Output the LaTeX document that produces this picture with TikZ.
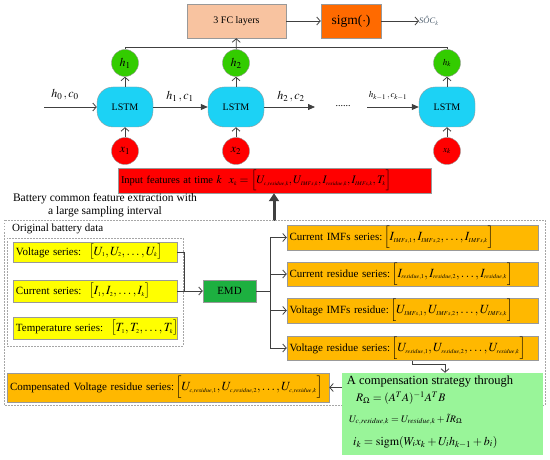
\documentclass[tikz,border=0pt]{standalone}
\usepackage{mathptmx}
\usepackage{fontspec}
\setmainfont{Liberation Serif}
\DeclareMathSizes{11}{12.5}{6}{5}
\DeclareMathSizes{10.5}{11.5}{5.5}{5}
\usetikzlibrary{arrows.meta,calc}
\definecolor{lg}{HTML}{404040}
\definecolor{fcc}{HTML}{F8C3A0}
\definecolor{sgc}{HTML}{FF6A00}
\definecolor{hgc}{HTML}{33CC00}
\definecolor{lsc}{HTML}{1CD2F5}
\definecolor{xrc}{HTML}{FF0000}
\definecolor{yec}{HTML}{FFFF00}
\definecolor{orc}{HTML}{FFB800}
\definecolor{emc}{HTML}{1DB040}
\definecolor{grc}{HTML}{99F599}
\definecolor{socc}{HTML}{506070}
\begin{document}
\begin{tikzpicture}[x=1pt,y=-1pt,
  ln/.style={draw=lg,line width=0.8pt},
  arr/.style={ln,-{Straight Barb[length=3.5pt,width=8pt]}},
  tarr/.style={ln,-{Triangle[length=7pt,width=6pt]}},
  bx/.style={draw=gray!80,line width=0.5pt,inner sep=0pt,align=center},
  hcirc/.style={circle,draw=gray!80,fill=hgc,minimum size=27pt,inner sep=0pt,font=\fontsize{12}{14}\selectfont},
  xcirc/.style={circle,draw=gray!80,fill=xrc,minimum size=27pt,inner sep=0pt,font=\fontsize{12}{14}\selectfont},
  lstmbox/.style={draw=gray!80,fill=lsc,rounded corners=16pt,minimum width=56pt,minimum height=40pt,inner sep=0pt,font=\fontsize{10}{12}\selectfont},
  ybox/.style={bx,fill=yec,minimum width=164pt,text width=158pt,align=left,font=\fontsize{11}{13}\selectfont},
  obox/.style={bx,fill=orc,minimum width=251pt,minimum height=24.5pt,text width=246pt,align=left,font=\fontsize{11}{13}\selectfont},
  dbox/.style={draw=gray!70,dashed,line width=0.5pt,dash pattern=on 1.5pt off 1.5pt},
  lab/.style={inner sep=0pt,font=\fontsize{12}{14}\selectfont}
]
\useasboundingbox (0,0) rectangle (550,460);
% top row
\node[bx,fill=fcc,minimum width=99pt,minimum height=34pt,font=\fontsize{10}{12}\selectfont] (fc) at (236.5,21) {3 FC layers};
\node[bx,fill=sgc,minimum width=60pt,minimum height=34pt,font=\fontsize{13.5}{15}\selectfont] (sg) at (351,21) {sigm($\cdot$)};
\node[inner sep=0pt,text=socc,font=\fontsize{8.5}{10}\selectfont,anchor=west] (soc) at (419,21) {\textit{S\^OC}$_k$};
\draw[arr] (fc) -- (sg);
\draw[arr] (sg) -- (soc);
% h circles
\node[hcirc] (h1) at (125,63) {$h_1$};
\node[hcirc] (h2) at (236,63) {$h_2$};
\node[hcirc,font=\small] (hk) at (447,63) {$h_k$};
\coordinate (tl) at (125,47);
\coordinate (tr) at (447,47);
\draw[ln] (h1) -- (tl) -- (tr) -- (hk);
\draw[arr] (h2) -- (fc);
% LSTMs
\node[lstmbox] (l1) at (125,107) {LSTM};
\node[lstmbox] (l2) at (236,107) {LSTM};
\node[lstmbox] (lk) at (447,107) {LSTM};
\node[xcirc] (x1) at (125,151) {$x_1$};
\node[xcirc] (x2) at (236,151) {$x_2$};
\node[xcirc,font=\small] (xk) at (447,151) {$x_k$};
\foreach \i in {1,2,k}{
  \draw[arr] (l\i) -- (h\i);
  \draw[arr] (x\i) -- (l\i);
}
\coordinate (s0) at (44,107);
\coordinate (e2) at (315,107);
\coordinate (sk) at (367,107);
\node[inner sep=0pt] (dots) at (343,106) {......};
\draw[arr] (s0) -- (l1);
\draw[tarr] (l1) -- (l2);
\draw[tarr] (l2) -- (e2);
\draw[tarr] (sk) -- (lk);
\node[lab] (lb0) at (65,95) {$h_0\,,c_0$};
\node[lab] (lb1) at (180,97) {$h_1\,,c_1$};
\node[lab] (lb2) at (291,97) {$h_2\,,c_2$};
\node[inner sep=0pt,font=\fontsize{9}{10}\selectfont] (lbk) at (388,96) {$h_{k-1}\,,c_{k-1}$};
% input features
\node[bx,fill=xrc,minimum width=313pt,minimum height=25pt,text width=307pt,align=left,font=\fontsize{10.5}{12}\selectfont] (inp) at (274.5,180.5)
  {\mbox{Input features at time $k$ \ $x_k=\Big[U_{c,residue,k},U_{IMFs,k},I_{residue,k},I_{IMFs,k},T_k\Big]$}};
\coordinate (ta) at (274,221);
\draw[draw=lg,line width=3pt,-{Triangle[length=8pt,width=10pt]}] (ta) -- (ta |- inp.south);
\node[inner sep=0pt,align=center,font=\fontsize{11.5}{13}\selectfont] (bc) at (105,205) {Battery common feature extraction with\\a large sampling interval};
% dashed frames
\draw[dbox] (4,220) rectangle (545,405);
\draw[dbox] (7,238) rectangle (183,346);
\node[inner sep=0pt,anchor=west,font=\fontsize{11}{13}\selectfont] (obd) at (12,229) {Original battery data};
% yellow
\node[ybox,minimum height=20pt] (vs) at (95,252) {\mbox{Voltage series:\ \ $\big[U_1,U_2,\ldots,U_k\big]$}};
\node[ybox,minimum height=22pt] (cs) at (95,291) {\mbox{Current series:\ \ $\big[I_1,I_2,\ldots,I_k\big]$}};
\node[ybox,minimum height=22pt] (ts) at (95,328) {\mbox{Temperature series:\ \ $\big[T_1,T_2,\ldots,T_k\big]$}};
\node[bx,fill=emc,minimum width=53pt,minimum height=22pt,font=\fontsize{11}{13}\selectfont] (emd) at (229.5,291) {EMD};
\coordinate (jn) at (184,291);
\draw[ln] (vs.east) -| (jn);
\draw[arr] (cs) -- (emd);
% orange
\node[obox] (o1) at (412.5,237.5) {\mbox{Current IMFs series:$\,\Big[I_{IMFs,1},I_{IMFs,2},\ldots,I_{IMFs,k}\Big]$}};
\node[obox] (o2) at (412.5,274) {\mbox{Current residue series:$\,\Big[I_{residue,1},I_{residue,2},\ldots,I_{residue,k}\Big]$}};
\node[obox] (o3) at (412.5,310.5) {\mbox{Voltage IMFs residue:$\,\Big[U_{IMFs,1},U_{IMFs,2},\ldots,U_{IMFs,k}\Big]$}};
\node[obox] (o4) at (412.5,348) {\mbox{Voltage residue series:$\,\Big[U_{residue,1},U_{residue,2},\ldots,U_{residue,k}\Big]$}};
\coordinate (sp) at (270,291);
\draw[ln] (emd) -- (sp);
\foreach \i in {1,...,4}{\draw[arr] (sp) |- (o\i);}
% green box
\node[bx,fill=grc,draw=none,minimum width=201pt,minimum height=82pt] (gb) at (442.5,414) {};
\node[inner sep=0pt,font=\fontsize{12.5}{14}\selectfont] (g1) at (430,382) {A compensation strategy through};
\node[inner sep=0pt,anchor=west,font=\fontsize{11.5}{13}\selectfont] (g2) at (356,398.5) {$R_\Omega=(A^TA)^{-1}A^TB$};
\node[inner sep=0pt,anchor=west,font=\fontsize{10}{12}\selectfont] (g3) at (349,419.5) {$U_{c,residue,k}=U_{residue,k}+\tilde{I}R_\Omega$};
\node[inner sep=0pt,anchor=west,font=\fontsize{12}{14}\selectfont] (g4) at (353,442) {$i_k=\mathrm{sigm}(W_ix_k+U_ih_{k-1}+b_i)$};
\coordinate (g0) at (445,364);
\draw[arr] (o4.south) |- (g0) -- (g0 |- gb.north);
% compensated
\node[bx,fill=orc,minimum width=322pt,minimum height=29pt,text width=316pt,align=left,font=\fontsize{11}{13}\selectfont] (cv) at (168,387.5)
  {\mbox{Compensated Voltage residue series:$\,\Big[U_{c,residue,1},U_{c,residue,2},\ldots,U_{c,residue,k}\Big]$}};
\draw[arr] (gb.west |- cv.east) -- (cv.east);
\end{tikzpicture}
\end{document}
